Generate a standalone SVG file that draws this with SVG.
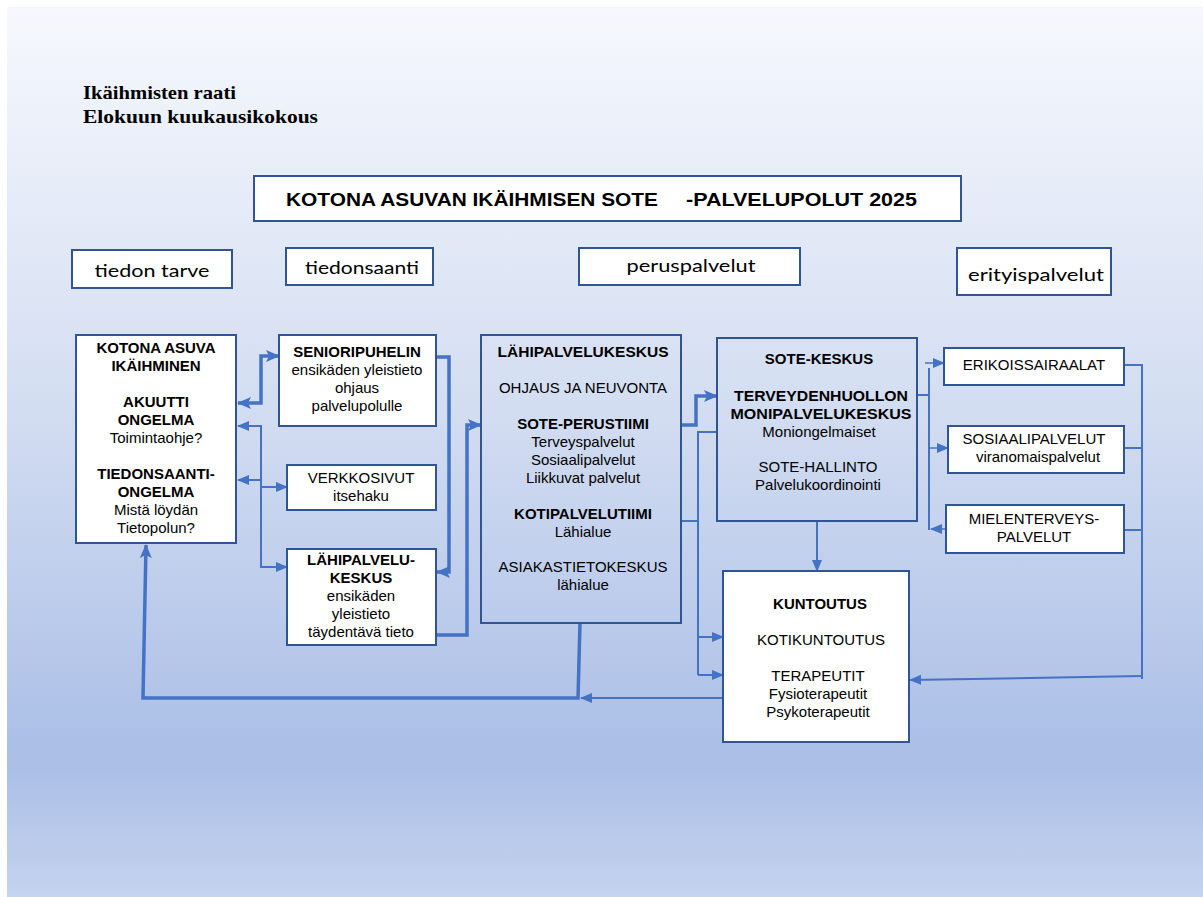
<svg xmlns="http://www.w3.org/2000/svg" width="1203" height="897" viewBox="0 0 1203 897">
<defs>
<linearGradient id="bg" gradientUnits="userSpaceOnUse" x1="0" y1="7" x2="0" y2="897">
<stop offset="0" stop-color="#f6f8fd"/>
<stop offset="0.44" stop-color="#d4def2"/>
<stop offset="0.846" stop-color="#aabee6"/>
<stop offset="1" stop-color="#c4d3ee"/>
</linearGradient>
<marker id="ah" markerUnits="userSpaceOnUse" markerWidth="14" markerHeight="14" viewBox="0 0 14 14" refX="13" refY="7" orient="auto-start-reverse">
<path d="M0,1 L14,7 L0,13 L3,7 Z" fill="#4472c4"/>
</marker>
<marker id="as" markerUnits="userSpaceOnUse" markerWidth="12" markerHeight="12" viewBox="0 0 12 12" refX="11" refY="6" orient="auto-start-reverse">
<path d="M0,1 L12,6 L0,11 Z" fill="#4472c4"/>
</marker>
</defs>
<style>
.box{stroke:#2f5597;stroke-width:2}
.w{fill:#ffffff}
.t{fill:none}
text{font-family:"Liberation Sans",Arial,sans-serif;font-size:15px;fill:#000;text-anchor:middle}
.b{font-weight:bold}
.cat{font-family:Lato,"Open Sans",sans-serif;font-size:18px}
.hdr{font-family:"Liberation Serif","Times New Roman",serif;font-weight:bold;font-size:19px;text-anchor:start}
.c{fill:none;stroke:#4472c4;stroke-linejoin:miter}
.k{stroke-width:3.5}
.n{stroke-width:2}
.f{stroke-width:1.5}
</style>
<rect x="0" y="0" width="1203" height="897" fill="#ffffff"/>
<rect x="7" y="7" width="1196" height="890" fill="url(#bg)"/>

<g id="header">
<text class="hdr" x="83" y="99" textLength="153" lengthAdjust="spacingAndGlyphs">Ikäihmisten raati</text>
<text class="hdr" x="83" y="123" textLength="235" lengthAdjust="spacingAndGlyphs">Elokuun kuukausikokous</text>
</g>

<g id="title">
<rect class="box w" x="254" y="176" width="707" height="45"/>
<text class="b" x="286" y="206" style="font-size:19px;text-anchor:start" textLength="372" lengthAdjust="spacingAndGlyphs">KOTONA ASUVAN IKÄIHMISEN SOTE</text>
<text class="b" x="686" y="206" style="font-size:19px;text-anchor:start" textLength="231" lengthAdjust="spacingAndGlyphs">-PALVELUPOLUT 2025</text>
</g>

<g id="cat-tiedon-tarve">
<rect class="box w" x="72" y="250" width="160" height="38"/>
<text class="cat" x="152" y="277" textLength="115" lengthAdjust="spacingAndGlyphs">tiedon tarve</text>
</g>
<g id="cat-tiedonsaanti">
<rect class="box w" x="286" y="248" width="147" height="37"/>
<text class="cat" x="362" y="274" textLength="114" lengthAdjust="spacingAndGlyphs">tiedonsaanti</text>
</g>
<g id="cat-peruspalvelut">
<rect class="box w" x="579" y="248" width="221" height="37"/>
<text class="cat" x="691" y="272" textLength="129" lengthAdjust="spacingAndGlyphs">peruspalvelut</text>
</g>
<g id="cat-erityispalvelut">
<rect class="box w" x="957" y="248" width="154" height="47"/>
<text class="cat" x="1036" y="281" textLength="136" lengthAdjust="spacingAndGlyphs">erityispalvelut</text>
</g>

<g id="connectors">
<path class="c k" d="M238,403 H261 V356 H279" marker-start="url(#ah)" marker-end="url(#ah)"/>
<path class="c n" d="M238,426 H261 V567 H287" marker-start="url(#as)" marker-end="url(#as)"/>
<path class="c n" d="M238,480 H261" marker-start="url(#as)"/>
<path class="c n" d="M261,487 H287" marker-end="url(#as)"/>
<path class="c k" d="M436,357 H449 V572 H437" marker-end="url(#ah)"/>
<path class="c k" d="M436,635 H467 V425 H481" marker-end="url(#ah)"/>
<path class="c k" d="M681,425 H696 V396 H717" marker-end="url(#ah)"/>
<path class="c n" d="M717,432 H698 V675"/>
<path class="c n" d="M681,521 H698"/>
<path class="c n" d="M698,637 H723" marker-end="url(#as)"/>
<path class="c n" d="M698,675 H723" marker-end="url(#as)"/>
<path class="c n" d="M817,521 V571" marker-end="url(#as)"/>
<path class="c n" d="M723,698 H581" marker-end="url(#as)"/>
<path class="c k" d="M580,623 L578,698 L143,698 L146,545" marker-end="url(#ah)"/>
<path class="c n" d="M917,395 H929"/>
<path class="c n" d="M929,368 V530"/>
<path class="c f" d="M925,363 H944" marker-end="url(#as)"/>
<path class="c f" d="M929,448 H948" marker-end="url(#as)"/>
<path class="c f" d="M945,529 H931" marker-end="url(#as)"/>
<path class="c n" d="M1124,365 H1142 V679"/>
<path class="c n" d="M1124,448 H1142"/>
<path class="c n" d="M1124,530 H1142"/>
<path class="c n" d="M1142,676 L910,680" marker-end="url(#as)"/>
</g>

<g id="kotona-asuva">
<rect class="box w" x="76" y="335" width="160" height="208"/>
<text class="b" x="156" y="353">KOTONA ASUVA</text>
<text class="b" x="156" y="371">IKÄIHMINEN</text>
<text class="b" x="156" y="407">AKUUTTI</text>
<text class="b" x="156" y="425">ONGELMA</text>
<text x="156" y="443">Toimintaohje?</text>
<text class="b" x="156" y="479">TIEDONSAANTI-</text>
<text class="b" x="156" y="497">ONGELMA</text>
<text x="156" y="515">Mistä löydän</text>
<text x="156" y="533">Tietopolun?</text>
</g>

<g id="senioripuhelin">
<rect class="box w" x="279" y="335" width="157" height="91"/>
<text class="b" x="357" y="357">SENIORIPUHELIN</text>
<text x="357" y="375">ensikäden yleistieto</text>
<text x="357" y="393">ohjaus</text>
<text x="357" y="411">palvelupolulle</text>
</g>

<g id="verkkosivut">
<rect class="box w" x="287" y="465" width="149" height="45"/>
<text x="361" y="483">VERKKOSIVUT</text>
<text x="361" y="501">itsehaku</text>
</g>

<g id="lahipalvelukeskus-small">
<rect class="box w" x="287" y="549" width="149" height="96"/>
<text class="b" x="361" y="565">LÄHIPALVELU-</text>
<text class="b" x="361" y="583">KESKUS</text>
<text x="361" y="601">ensikäden</text>
<text x="361" y="619">yleistieto</text>
<text x="361" y="637">täydentävä tieto</text>
</g>

<g id="lahipalvelukeskus">
<rect class="box t" x="481" y="335" width="200" height="288"/>
<text class="b" x="583" y="357" textLength="171" lengthAdjust="spacingAndGlyphs">LÄHIPALVELUKESKUS</text>
<text x="583" y="393">OHJAUS JA NEUVONTA</text>
<text class="b" x="583" y="429">SOTE-PERUSTIIMI</text>
<text x="583" y="447">Terveyspalvelut</text>
<text x="583" y="465">Sosiaalipalvelut</text>
<text x="583" y="483">Liikkuvat palvelut</text>
<text class="b" x="583" y="519">KOTIPALVELUTIIMI</text>
<text x="583" y="537">Lähialue</text>
<text x="583" y="572">ASIAKASTIETOKESKUS</text>
<text x="583" y="590">lähialue</text>
</g>

<g id="sote-keskus">
<rect class="box t" x="717" y="338" width="200" height="183"/>
<text class="b" x="819" y="364">SOTE-KESKUS</text>
<text class="b" x="821" y="401" textLength="174" lengthAdjust="spacingAndGlyphs">TERVEYDENHUOLLON</text>
<text class="b" x="821" y="419" textLength="181" lengthAdjust="spacingAndGlyphs">MONIPALVELUKESKUS</text>
<text x="819" y="437">Moniongelmaiset</text>
<text x="818" y="472">SOTE-HALLINTO</text>
<text x="818" y="490">Palvelukoordinointi</text>
</g>

<g id="kuntoutus">
<rect class="box w" x="723" y="571" width="186" height="171"/>
<text class="b" x="820" y="609">KUNTOUTUS</text>
<text x="821" y="645">KOTIKUNTOUTUS</text>
<text x="818" y="681">TERAPEUTIT</text>
<text x="818" y="699">Fysioterapeutit</text>
<text x="818" y="717">Psykoterapeutit</text>
</g>

<g id="erikoissairaalat">
<rect class="box w" x="944" y="348" width="180" height="37"/>
<text x="1034" y="370">ERIKOISSAIRAALAT</text>
</g>

<g id="sosiaalipalvelut">
<rect class="box w" x="948" y="426" width="176" height="47"/>
<text x="1034" y="444">SOSIAALIPALVELUT</text>
<text x="1038" y="462">viranomaispalvelut</text>
</g>

<g id="mielenterveyspalvelut">
<rect class="box w" x="946" y="505" width="178" height="48"/>
<text x="1034" y="524">MIELENTERVEYS-</text>
<text x="1034" y="542">PALVELUT</text>
</g>
</svg>
